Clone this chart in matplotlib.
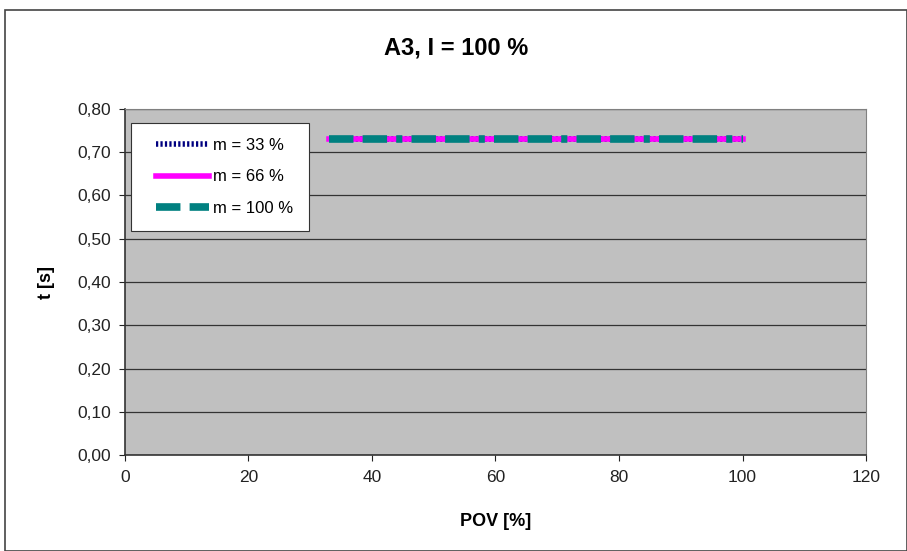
import matplotlib
matplotlib.use("Agg")
import matplotlib.pyplot as plt
from matplotlib.patches import Rectangle
from matplotlib.ticker import FuncFormatter
from matplotlib.legend_handler import HandlerLine2D

plt.rcParams['font.family'] = ['Liberation Sans', 'DejaVu Sans']

pov = [33, 66, 100]
t_m33 = [0.73, 0.73, 0.73]
t_m66 = [0.73, 0.73, 0.73]
t_m100 = [0.73, 0.73, 0.73]
labels = ["m = 33 %", "m = 66 %", "m = 100 %"]
title = "A3, I = 100 %"

fig = plt.figure(figsize=(9.07, 5.51), dpi=100)
fig.patches.append(Rectangle((0.006, 0.0), 0.994, 0.982, transform=fig.transFigure,
                             fill=False, edgecolor='#444444', linewidth=1.2))
ax = fig.add_axes([0.1378, 0.1742, 0.817, 0.628])
ax.set_facecolor('#c0c0c0')
ax.set_xlim(0, 120)
ax.set_ylim(0, 0.8)
ax.set_xticks(range(0, 121, 20))
ax.set_yticks([i / 10 for i in range(9)])
ax.yaxis.set_major_formatter(FuncFormatter(lambda v, p: f"{v:.2f}".replace('.', ',')))
ax.grid(axis='y', color='#333333', linewidth=0.9)
ax.set_axisbelow(True)
for s in ['top', 'right']:
    ax.spines[s].set_color('#808080')
for s in ['left', 'bottom']:
    ax.spines[s].set_color('#333333')
    ax.spines[s].set_linewidth(1.2)
ax.tick_params(labelsize=12.5, colors='#222222', length=4, direction='out')
ax.tick_params(axis='x', pad=7)
ax.tick_params(axis='y', pad=6)

l1, = ax.plot(pov, t_m33, color='#000080', linewidth=4.0, linestyle=(0, (0.4, 0.4)), label=labels[0], zorder=3)
l2, = ax.plot(pov, t_m66, color='#ff00ff', linewidth=4.0, label=labels[1], zorder=3)
l3, = ax.plot(pov, t_m100, color='#008080', linewidth=5.5, linestyle=(0, (3.2, 1.2, 3.2, 1.2, 0.8, 1.2)),
              dash_capstyle='butt', solid_capstyle='round', label=labels[2], zorder=4)

fig.text(0.503, 0.913, title, fontsize=17, fontweight='bold', ha='center', va='center')
ax.set_xlabel("POV [%]", fontsize=13, fontweight='bold', labelpad=20)
ax.set_ylabel("t [s]", fontsize=13, fontweight='bold', labelpad=16)

h = HandlerLine2D(xpad=0.6)
leg = ax.legend(handler_map={l1: h, l2: h, l3: h},
                loc='upper left', bbox_to_anchor=(0.008, 0.96), borderaxespad=0, fontsize=12,
                frameon=True, fancybox=False, edgecolor='#333333', framealpha=1,
                handlelength=3.8, labelspacing=1.0, borderpad=0.9, handletextpad=0.25)
leg.get_frame().set_linewidth(0.8)

fig.savefig("out.png", dpi=100)
